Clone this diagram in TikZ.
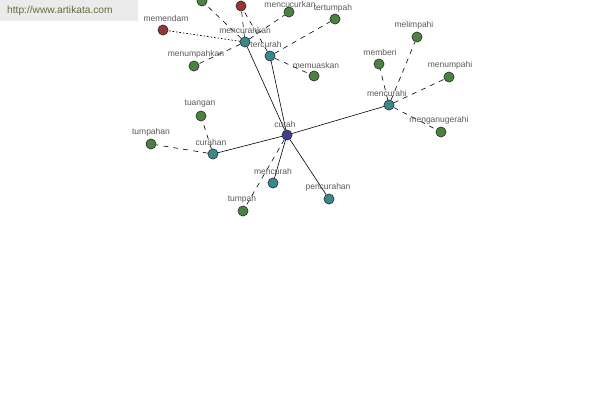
\documentclass[tikz,border=0pt]{standalone}
\usepackage{fontspec}
\setmainfont{Liberation Sans}
\definecolor{ngreen}{RGB}{72,132,62}
\definecolor{nteal}{RGB}{58,136,142}
\definecolor{nred}{RGB}{150,52,55}
\definecolor{nblue}{RGB}{62,62,145}
\definecolor{urlcol}{RGB}{95,110,55}
\begin{document}
\begin{tikzpicture}[x=1pt,y=-1pt,
  vtx/.style={circle,draw=black!80,line width=0.5pt,minimum size=10pt,inner sep=0pt},
  gnode/.style={vtx,fill=ngreen},
  tnode/.style={vtx,fill=nteal},
  rnode/.style={vtx,fill=nred},
  bnode/.style={vtx,fill=nblue},
  lbl/.style={font=\fontsize{8.5}{10}\selectfont,text=black!65,inner sep=0pt},
  solidedge/.style={draw=black,line width=0.6pt},
  dashedge/.style={draw=black,line width=0.6pt,dash pattern=on 5pt off 5pt},
  dotedge/.style={draw=black,line width=0.7pt,dash pattern=on 1.5pt off 2pt}]
\useasboundingbox (0,0) rectangle (600,400);
\clip (0,0) rectangle (600,400);
\fill[white] (0,0) rectangle (600,400);
\fill[black!8] (0,0) rectangle (138,21);
\node[font=\fontsize{10.2}{12}\selectfont,text=urlcol,anchor=west,inner sep=0pt] (url) at (7,11) {http://www.artikata.com};
% nodes
\node[bnode] (curah) at (287,135) {};
\node[tnode] (mencurahkan) at (245,42) {};
\node[tnode] (tercurah) at (270,56) {};
\node[tnode] (mencurahi) at (389,105) {};
\node[tnode] (curahan) at (213,154) {};
\node[tnode] (mencurah) at (273,183) {};
\node[tnode] (pencurahan) at (329,199) {};
\node[rnode] (memendam) at (163,30) {};
\node[gnode] (topgreen) at (202,1) {};
\node[rnode] (topred) at (241,6) {};
\node[gnode] (mencucurkan) at (289,12) {};
\node[gnode] (tertumpah) at (335,19) {};
\node[gnode] (menumpahkan) at (194,66) {};
\node[gnode] (memuaskan) at (314,76) {};
\node[gnode] (melimpahi) at (417,37) {};
\node[gnode] (memberi) at (379,64) {};
\node[gnode] (menumpahi) at (449,77) {};
\node[gnode] (menganugerahi) at (441,132) {};
\node[gnode] (tuangan) at (201,116) {};
\node[gnode] (tumpahan) at (151,144) {};
\node[gnode] (tumpah) at (243,211) {};
% edges
\path[solidedge] (curah) -- (mencurahkan);
\path[solidedge] (curah) -- (tercurah);
\path[solidedge] (curah) -- (mencurahi);
\path[solidedge] (curah) -- (curahan);
\path[solidedge] (curah) -- (mencurah);
\path[solidedge] (curah) -- (pencurahan);
\path[dashedge] (curah) -- (tumpah);
\path[dotedge] (mencurahkan) -- (memendam);
\path[dashedge] (mencurahkan) -- (topgreen);
\path[dashedge] (mencurahkan) -- (topred);
\path[dashedge] (mencurahkan) -- (mencucurkan);
\path[dashedge] (mencurahkan) -- (menumpahkan);
\path[dashedge] (tercurah) -- (topred);
\path[dashedge] (tercurah) -- (tertumpah);
\path[dashedge] (tercurah) -- (memuaskan);
\path[dashedge] (mencurahi) -- (melimpahi);
\path[dashedge] (mencurahi) -- (memberi);
\path[dashedge] (mencurahi) -- (menumpahi);
\path[dashedge] (mencurahi) -- (menganugerahi);
\path[dashedge] (curahan) -- (tuangan);
\path[dashedge] (curahan) -- (tumpahan);
% redraw nodes on top of the connectors
\foreach \n/\s in {curah/bnode,mencurahkan/tnode,tercurah/tnode,mencurahi/tnode,curahan/tnode,mencurah/tnode,pencurahan/tnode,memendam/rnode,topgreen/gnode,topred/rnode,mencucurkan/gnode,tertumpah/gnode,menumpahkan/gnode,memuaskan/gnode,melimpahi/gnode,memberi/gnode,menumpahi/gnode,menganugerahi/gnode,tuangan/gnode,tumpahan/gnode,tumpah/gnode}
  \node[\s] at (\n.center) {};
% labels
\node[lbl] (l-curah) at (285,124) {curah};
\node[lbl] (l-mencurahkan) at (245,30) {mencurahkan};
\node[lbl] (l-tercurah) at (266,44) {tercurah};
\node[lbl] (l-mencurahi) at (387,93) {mencurahi};
\node[lbl] (l-curahan) at (211,142) {curahan};
\node[lbl] (l-mencurah) at (273,171) {mencurah};
\node[lbl] (l-pencurahan) at (328,187) {pencurahan};
\node[lbl] (l-memendam) at (166,18) {memendam};
\node[lbl] (l-mencucurkan) at (290,4.5) {mencucurkan};
\node[lbl] (l-tertumpah) at (333,8) {tertumpah};
\node[lbl] (l-menumpahkan) at (196,54) {menumpahkan};
\node[lbl] (l-memuaskan) at (316,65) {memuaskan};
\node[lbl] (l-melimpahi) at (414,25) {melimpahi};
\node[lbl] (l-memberi) at (380,52) {memberi};
\node[lbl] (l-menumpahi) at (450,65) {menumpahi};
\node[lbl] (l-menganugerahi) at (439,120) {menganugerahi};
\node[lbl] (l-tuangan) at (200,104) {tuangan};
\node[lbl] (l-tumpahan) at (151,132) {tumpahan};
\node[lbl] (l-tumpah) at (242,199) {tumpah};
\end{tikzpicture}
\end{document}
